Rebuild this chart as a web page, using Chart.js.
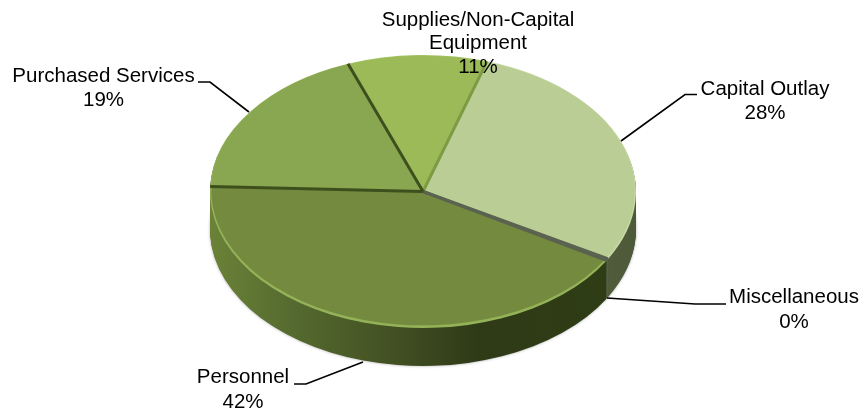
<!DOCTYPE html>
<html><head><meta charset="utf-8">
<style>html,body{margin:0;padding:0;background:#fff}#wrap{width:865px;height:413px;position:relative}canvas{display:block}</style>
<script src="https://cdn.jsdelivr.net/npm/chart.js@4"></script></head>
<body><div id="wrap"><canvas id="c" width="865" height="413"></canvas></div>
<script>
const categories = ['Capital Outlay','Miscellaneous','Personnel','Purchased Services','Supplies/Non-Capital Equipment'];
const values = [28.4, 0.2, 42.2, 18.7, 10.6];
const colors = ['#b9cd94','#5b6350','#748a3f','#89a650','#9cbb58'];
const rimColors = ['#c6d8a6','#5b6350','#94b358','#94b358','#a6c464'];
const sideColors = ['#4f5b3a','#5b6350',null,'#47562a','#6f8a3c'];
const dividerColors = ['#7d9a45','#5b6350','#5b6350','#3e4f1e','#3e4f1e'];
const startAngle = 17.5;

const G = {cx:423, cy:191.5, rx:213, ry:136.5, depth:38};
const labelLayout = [
  {lines:['Capital Outlay','28%'], x:765, y:[95,119], leader:[[621,141],[685,94.5],[697,94.5]]},
  {lines:['Miscellaneous','0%'], x:794, y:[303,328], leader:[[607,298],[695,304],[726,304]]},
  {lines:['Personnel','42%'], x:243, y:[383,408], leader:[[363,362],[306,384],[294,384]]},
  {lines:['Purchased Services','19%'], x:103.5, y:[82,106], leader:[[249,112],[210,82],[198,82]]},
  {lines:['Supplies/Non-Capital','Equipment','11%'], x:478, y:[26,49,73], leader:null}
];

function place(ctx, el, dy, shrinkX, shrinkY, lift){
  const sx = G.rx/el.outerRadius*(shrinkX||1), sy = G.ry/el.outerRadius*(shrinkY||1);
  ctx.setTransform(sx,0,0,sy,G.cx-el.x*sx,G.cy+dy-(lift||0)-el.y*sy);
  return {sx, tx:G.cx-el.x*sx};
}
function drawWith(ctx, el, fill){
  const orig = el.options;
  el.options = Object.create(orig, {backgroundColor:{value:fill}, borderWidth:{value:0}});
  el.draw(ctx);
  el.options = orig;
}
const pie3d = {
  id:'pie3d',
  beforeDatasetsDraw(chart){
    const ctx = chart.ctx, arcs = chart.getDatasetMeta(0).data;
    ctx.save();
    for(let dy=G.depth; dy>=1; dy--){
      ctx.shadowColor = dy===G.depth ? 'rgba(0,0,0,0.35)' : 'transparent';
      ctx.shadowBlur = dy===G.depth ? 3 : 0;
      arcs.forEach((el,i)=>{
        const t = place(ctx, el, dy);
        let fill = sideColors[i];
        if(!fill){
          const X = v => (v-t.tx)/t.sx;
          fill = ctx.createLinearGradient(X(210),0,X(603),0);
          fill.addColorStop(0,'#6b8238');
          fill.addColorStop(0.23,'#53682e');
          fill.addColorStop(0.48,'#414f22');
          fill.addColorStop(0.68,'#2f3a17');
          fill.addColorStop(1,'#2e3d15');
        }
        drawWith(ctx, el, fill);
      });
    }
    ctx.shadowColor = 'transparent';
    ctx.shadowBlur = 0;
    arcs.forEach((el,i)=>{ place(ctx, el, 0); drawWith(ctx, el, rimColors[i]); });
    place(ctx, arcs[0], 0, 0.994, 0.988, 1);
  },
  afterDatasetsDraw(chart){
    const ctx = chart.ctx, arcs = chart.getDatasetMeta(0).data;
    ctx.restore();
    ctx.save();
    ctx.setTransform(1,0,0,1,0,0);
    ctx.lineCap = 'butt';
    arcs.forEach((el,i)=>{
      ctx.strokeStyle = dividerColors[i];
      ctx.lineWidth = 3;
      ctx.beginPath();
      ctx.moveTo(G.cx, G.cy);
      ctx.lineTo(G.cx+G.rx*Math.cos(el.startAngle), G.cy+G.ry*Math.sin(el.startAngle));
      ctx.stroke();
    });
    ctx.fillStyle = '#000';
    ctx.strokeStyle = '#000';
    ctx.lineWidth = 1.6;
    ctx.font = '20.5px "Liberation Sans", Arial, sans-serif';
    ctx.textAlign = 'center';
    ctx.textBaseline = 'alphabetic';
    labelLayout.forEach(l=>{
      l.lines.forEach((s,k)=>ctx.fillText(s,l.x,l.y[k]));
      if(l.leader){
        ctx.beginPath();
        l.leader.forEach((p,k)=>k?ctx.lineTo(p[0],p[1]):ctx.moveTo(p[0],p[1]));
        ctx.stroke();
      }
    });
    ctx.restore();
  }
};
new Chart(document.getElementById('c'),{
  type:'pie',
  data:{labels:categories,datasets:[{data:values,backgroundColor:colors,borderWidth:0}]},
  options:{
    responsive:false,animation:false,rotation:startAngle,
    events:[],
    layout:{padding:0},
    plugins:{legend:{display:false},tooltip:{enabled:false}}
  },
  plugins:[pie3d]
});
</script></body></html>
